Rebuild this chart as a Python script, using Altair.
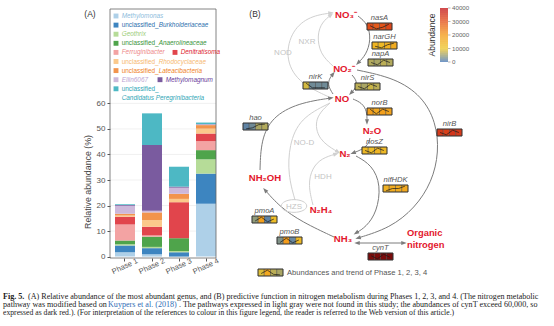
import math
import altair as alt
import pandas as pd

W, H = 554, 326
FONT = "Liberation Sans"
SERIF = "Liberation Serif"

# ======================= DATA =======================
# ---- Panel A: relative abundance (%) of the most abundant genera ----
phases = ["Phase 1", "Phase 2", "Phase 3", "Phase 4"]
genera = ["Methylomonas", "unclassified_Burkholderiaceae", "Geothrix",
          "unclassified_Anaerolineaceae", "Ferruginibacter", "Denitratisoma",
          "unclassified_Rhodocyclaceae", "unclassified_Lateacibacteria",
          "Ellin6067", "Methylomagnum", "unclassified_Candidatus Peregrinibacteria"]
abund_phase1 = [1.7, 2.6, 0.5, 1.5, 6.3, 3.0, 0.5, 0.7, 3.1, 0.3, 0.3]
abund_phase2 = [0.9, 2.4, 0.5, 4.0, 0.5, 3.4, 2.6, 3.0, 0.7, 25.7, 12.4]
abund_phase3 = [0.0, 1.7, 0.5, 5.0, 0.0, 14.1, 1.3, 2.0, 2.4, 0.4, 7.8]
abund_phase4 = [20.7, 11.8, 5.6, 3.6, 3.5, 3.0, 1.9, 1.4, 0.3, 0.1, 0.6]
y_ticks = [0, 10, 20, 30, 40, 50, 60]

legend_plain = ["", "unclassified_", "", "unclassified_", "", "", "unclassified_",
                "unclassified_", "", "", "unclassified_", ""]
legend_italic = ["Methylomonas", "Burkholderiaceae", "Geothrix", "Anaerolineaceae",
                 "Ferruginibacter", "Denitratisoma", "Rhodocyclaceae", "Lateacibacteria",
                 "Ellin6067", "Methylomagnum", "", "Candidatus Peregrinibacteria"]
legend_series = [0, 1, 2, 3, 4, 5, 6, 7, 8, 9, 10, 10]

# ---- Panel B: predicted gene abundances, Phases 1-4 ----
genes = ["nasA", "narGH", "napA", "nirK", "nirS", "norB", "hao", "nirB",
         "nosZ", "nifHDK", "pmoA", "pmoB", "cynT", ""]
gene_phase1 = [31000, 14000, 6500, 8500, 7000, 19000, 1500, 34000, 13000, 15000, 4500, 3500, 65000, 9000]
gene_phase2 = [29000, 13000, 6000, 2500, 6000, 17000, 2500, 33000, 12000, 16000, 19000, 20000, 63000, 17000]
gene_phase3 = [30000, 15000, 7000, 2500, 8000, 19000, 6000, 35000, 14000, 16000, 1500, 2000, 66000, 7000]
gene_phase4 = [32000, 16000, 6500, 2500, 7000, 18000, 6500, 34000, 13000, 17000, 12000, 13000, 64000, 6000]
abund_ticks = [0, 10000, 20000, 30000, 40000]

nodes = ["NO₃⁻", "NO₂⁻", "NO", "N₂O", "N₂", "NH₂OH", "N₂H₄", "NH₃"]
absent_enzymes = ["NXR", "NOD", "NO-D", "HDH", "HZS"]

caption_parts = [
    "Fig. 5.",
    "(A) Relative abundance of the most abundant genus, and (B) predictive function in nitrogen metabolism during Phases 1, 2, 3, and 4. (The nitrogen metabolic",
    "pathway was modified based on",
    "Kuypers et al. (2018)",
    ". The pathways expressed in light gray were not found in this study; the abundances of cynT exceed 60,000, so",
    "expressed as dark red.). (For interpretation of the references to colour in this figure legend, the reader is referred to the Web version of this article.)",
]

# ======================= STYLE / LAYOUT =======================
bar_colors = ["#aed0e8", "#3d85c0", "#b6dc98", "#4fa44b", "#f3a3a3", "#e1454c",
              "#fbc98b", "#f2944c", "#cdb8da", "#7a5b9f", "#4db8c4"]
text_colors = ["#8dbcdc", "#2f70ad", "#9ccd78", "#3a943a", "#ee8a8a", "#dc2430",
               "#f6b870", "#ef7f1e", "#bba3d3", "#6a3d9a", "#2fa6b6"]
RED = "#e3172d"
DARK = "#7c7c7c"
LIGHT = "#d0d0d0"

# panel A layout
A_LEFT, A_RIGHT, A_TOP, A_BOTTOM = 110, 216, 9, 258
A_Y_RANGE = [256.6, 103.4]
A_X_RANGE = [111.5, 219.5]
legend_sq_x = [116, 116, 116, 116, 116, 175, 116, 116, 116, 160, 116, None]
legend_row = [0, 1, 2, 3, 4, 4, 5, 6, 7, 7, 8, 9]
LEG_Y0, LEG_DY, LEG_FS = 16, 9.1, 6.4

# panel B layout
gene_box_x = [367, 372, 368, 303, 355, 367, 243, 437, 362, 383, 252, 277, 368, 258]
gene_box_y = [23, 42, 59, 82, 83, 108, 123, 129, 147, 185, 216, 237, 253, 269]
BOX_W, BOX_H = 25, 7
node_x = [346, 344, 342, 372, 345, 265, 321, 343]
node_y = [15, 69, 99, 131, 154, 178, 210, 239]
enz_x = [307, 283, 304, 323, 294]
enz_y = [42, 53, 143, 177, 207]

curves = [
    ("nas", DARK, "end", [(358, 16), (368, 24), (371, 40), (366, 55), (358, 63)]),
    ("nirK", DARK, "end", [(333, 94), (328, 86), (329, 79), (333, 74)]),
    ("nirS", DARK, "end", [(352, 75), (357, 81), (356, 88), (351, 93)]),
    ("norB", DARK, "end", [(353, 99), (362, 103), (367, 111), (367, 122)]),
    ("nosZ", DARK, "end", [(370, 138), (368, 145), (361, 150), (353, 153)]),
    ("nif", DARK, "end", [(356, 156), (372, 165), (381, 185), (377, 212), (366, 227), (356, 233)]),
    ("nirB", DARK, "end", [(357, 70), (395, 78), (422, 96), (436, 122), (439, 152), (432, 182),
                           (415, 208), (390, 228), (358, 238)]),
    ("cynT", DARK, "both", [(357, 243), (404, 243)]),
    ("pmo", DARK, "end", [(334, 237), (302, 222), (280, 207), (265, 190)]),
    ("hao", DARK, "end", [(260, 170), (261, 140), (272, 117), (298, 103), (331, 98)]),
    ("nxr", LIGHT, "end", [(333, 66), (320, 54), (317, 35), (322, 22), (331, 15)]),
    ("nod", LIGHT, "end", [(329, 97), (297, 82), (285, 57), (292, 30), (310, 16), (331, 13)]),
    ("nod2", LIGHT, "end", [(330, 103), (314, 118), (318, 140), (338, 152)]),
    ("hzs", LIGHT, "none", [(330, 103), (300, 118), (289, 145), (288, 175), (295, 200)]),
    ("hdh", LIGHT, "end", [(313, 205), (308, 185), (312, 168), (322, 158), (336, 154)]),
]

XS = alt.Scale(domain=[0, W], range=[0, W], nice=False, zero=False)
YS = alt.Scale(domain=[0, H], range=[0, H], nice=False, zero=False)


def PX(f):
    return alt.X(f"{f}:Q", scale=XS, axis=None)


def PY(f):
    return alt.Y(f"{f}:Q", scale=YS, axis=None)


one = pd.DataFrame({"a": [0]})
layers = []

# ======================= PANEL A =======================
grid_df = pd.DataFrame({"v": y_ticks[1:]})
layers.append(alt.Chart(grid_df).mark_rule(color="#ebebeb", strokeWidth=0.7).encode(
    x=alt.value(A_LEFT), x2=alt.value(A_RIGHT),
    y=alt.Y("v:Q", scale=alt.Scale(domain=[0, 60], range=A_Y_RANGE, nice=False), axis=None)))

rows = []
for ph, vals in zip(phases, [abund_phase1, abund_phase2, abund_phase3, abund_phase4]):
    for i, (g, v) in enumerate(zip(genera, vals)):
        rows.append({"phase": ph, "genus": g, "idx": i, "value": v})
bar_df = pd.DataFrame(rows)

layers.append(alt.Chart(bar_df).mark_bar().encode(
    x=alt.X("phase:N", sort=phases,
            scale=alt.Scale(domain=phases, range=A_X_RANGE, paddingInner=0.26, paddingOuter=0.13),
            axis=alt.Axis(orient="bottom", offset=-(H - A_BOTTOM), domain=False, tickSize=3,
                          tickColor="#555", labelAngle=-25, labelAlign="center", labelBaseline="middle",
                          labelPadding=5, labelFontSize=7.5, labelColor="#555", labelFont=FONT,
                          title=None)),
    y=alt.Y("value:Q", stack="zero",
            scale=alt.Scale(domain=[0, 60], range=A_Y_RANGE, nice=False),
            axis=alt.Axis(orient="left", offset=-A_LEFT, values=y_ticks, domain=False, grid=False,
                          tickSize=3, tickColor="#555", labelFontSize=8, labelColor="#555",
                          labelFont=FONT, labelPadding=2, title=None)),
    color=alt.Color("genus:N", scale=alt.Scale(domain=genera, range=bar_colors), legend=None),
    order=alt.Order("idx:Q", sort="ascending"),
))

layers.append(alt.Chart(one).mark_rect(fill="transparent", stroke="#666", strokeWidth=0.8).encode(
    x=alt.value(A_LEFT), x2=alt.value(A_RIGHT), y=alt.value(A_TOP), y2=alt.value(A_BOTTOM)))

leg_rows = []
for k in range(len(legend_italic)):
    sx = legend_sq_x[k]
    base = 116 if sx is None else sx
    leg_rows.append({
        "sx": sx if sx is not None else -50,
        "tx": base + 5.7,
        "ty": LEG_Y0 + LEG_DY * legend_row[k],
        "plain": legend_plain[k],
        "ital": legend_italic[k],
        "ix": base + 5.7 + (5.78 * LEG_FS if legend_plain[k] else 0),
        "col": text_colors[legend_series[k]],
        "fill": bar_colors[legend_series[k]],
        "has_sq": sx is not None,
    })
leg_df = pd.DataFrame(leg_rows)
layers.append(alt.Chart(leg_df[leg_df.has_sq]).mark_point(shape="square", filled=True, size=24, opacity=1).encode(
    x=PX("sx"), y=PY("ty"), color=alt.Color("fill:N", scale=None)))
layers.append(alt.Chart(leg_df[leg_df.plain != ""]).mark_text(align="left", baseline="middle", font=FONT,
                                                              fontSize=LEG_FS).encode(
    x=PX("tx"), y=PY("ty"), text="plain:N", color=alt.Color("col:N", scale=None)))
layers.append(alt.Chart(leg_df[leg_df.ital != ""]).mark_text(align="left", baseline="middle", font=FONT,
                                                             fontSize=LEG_FS, fontStyle="italic").encode(
    x=PX("ix"), y=PY("ty"), text="ital:N", color=alt.Color("col:N", scale=None)))

layers.append(alt.Chart(one).mark_text(text="Relative abundance (%)", angle=270, font=FONT, fontSize=8.8,
                                       color="#444", baseline="middle", align="center").encode(
    x=alt.value(88), y=alt.value(182)))
layers.append(alt.Chart(one).mark_text(text="(A)", font=FONT, fontSize=8.5, color="#333").encode(
    x=alt.value(90), y=alt.value(14)))
layers.append(alt.Chart(one).mark_text(text="(B)", font=FONT, fontSize=8.5, color="#333").encode(
    x=alt.value(255), y=alt.value(14)))

# ======================= PANEL B =======================
crow, arow = [], []
for name, col, arrow, pts in curves:
    for k, (x, y) in enumerate(pts):
        crow.append({"path": name, "k": k, "x": x, "y": y, "col": col})
    if arrow in ("end", "both"):
        (x1, y1), (x2, y2) = pts[-2], pts[-1]
        arow.append({"x": x2, "y": y2, "col": col,
                     "ang": math.degrees(math.atan2(x2 - x1, -(y2 - y1))) % 360})
    if arrow in ("start", "both"):
        (x1, y1), (x2, y2) = pts[1], pts[0]
        arow.append({"x": x2, "y": y2, "col": col,
                     "ang": math.degrees(math.atan2(x2 - x1, -(y2 - y1))) % 360})
curve_df = pd.DataFrame(crow)
arrow_df = pd.DataFrame(arow)

layers.append(alt.Chart(curve_df).mark_line(interpolate="basis", strokeWidth=1).encode(
    x=PX("x"), y=PY("y"), detail="path:N", order="k:Q", color=alt.Color("col:N", scale=None)))
layers.append(alt.Chart(arrow_df).mark_point(shape="M0,-1L0.75,1L-0.75,1Z", filled=True, size=30,
                                             opacity=1).encode(
    x=PX("x"), y=PY("y"), angle=alt.Angle("ang:Q", scale=None), color=alt.Color("col:N", scale=None)))

# HZS loop
layers.append(alt.Chart(pd.DataFrame({"x": [enz_x[4]], "y": [enz_y[4] - 1]})).mark_point(
    shape="M-1,0A1,0.5 0 1,0 1,0A1,0.5 0 1,0 -1,0", filled=False, size=650, color=LIGHT,
    strokeWidth=1, opacity=1).encode(x=PX("x"), y=PY("y")))

# enzyme text (not found)
layers.append(alt.Chart(pd.DataFrame({"t": absent_enzymes, "x": enz_x, "y": enz_y})).mark_text(
    font=FONT, fontSize=8, color="#c4c4c4").encode(x=PX("x"), y=PY("y"), text="t:N"))

# nodes
layers.append(alt.Chart(pd.DataFrame({"t": nodes, "x": node_x, "y": node_y})).mark_text(
    font=FONT, fontSize=9.6, fontWeight="bold", color=RED).encode(x=PX("x"), y=PY("y"), text="t:N"))
layers.append(alt.Chart(pd.DataFrame({"t": ["Organic", "nitrogen"], "x": [407, 407], "y": [233, 245]})).mark_text(
    font=FONT, fontSize=9.4, fontWeight="bold", color=RED, align="left").encode(
    x=PX("x"), y=PY("y"), text="t:N"))

# gene heat boxes
abund_dom = [0, 10000, 20000, 30000, 40000, 60000]
abund_rng = ["#4778bb", "#ecc52a", "#f49c1b", "#e3531a", "#c3161c", "#7a0b0b"]
ASCALE = alt.Scale(domain=abund_dom, range=abund_rng, interpolate="rgb", clamp=True)
cell_rows, spark_rows, lab_rows = [], [], []
for g in range(len(genes)):
    vals = [gene_phase1[g], gene_phase2[g], gene_phase3[g], gene_phase4[g]]
    bx, by = gene_box_x[g], gene_box_y[g]
    cw = BOX_W / 4
    lo, hi = min(vals), max(vals)
    for i, v in enumerate(vals):
        cell_rows.append({"g": g, "x0": bx + i * cw, "x1": bx + (i + 1) * cw, "y0": by, "y1": by + BOX_H, "v": v})
        frac = 0.5 if hi == lo else (v - lo) / (hi - lo)
        spark_rows.append({"g": g, "i": i, "x": bx + (i + 0.5) * cw, "y": by + 1.2 + (1 - frac) * (BOX_H - 2.4)})
    if genes[g]:
        lab_rows.append({"t": genes[g], "x": bx + BOX_W / 2, "y": by - 0.6})
cell_df = pd.DataFrame(cell_rows)
layers.append(alt.Chart(cell_df).mark_rect(stroke="#3a3a3a", strokeWidth=0.4).encode(
    x=PX("x0"), x2="x1:Q", y=PY("y0"), y2="y1:Q",
    color=alt.Color("v:Q", scale=ASCALE, legend=None)))
box_df = pd.DataFrame({"x0": gene_box_x, "y0": gene_box_y,
                       "x1": [x + BOX_W for x in gene_box_x], "y1": [y + BOX_H for y in gene_box_y]})
layers.append(alt.Chart(box_df).mark_rect(fill="transparent", stroke="#333", strokeWidth=0.8).encode(
    x=PX("x0"), x2="x1:Q", y=PY("y0"), y2="y1:Q"))
layers.append(alt.Chart(pd.DataFrame(spark_rows)).mark_line(color="#1a1a1a", strokeWidth=0.7).encode(
    x=PX("x"), y=PY("y"), detail="g:N", order="i:Q"))
layers.append(alt.Chart(pd.DataFrame(lab_rows)).mark_text(
    font=FONT, fontSize=7.6, fontStyle="italic", color="#555", baseline="bottom").encode(
    x=PX("x"), y=PY("y"), text="t:N"))

layers.append(alt.Chart(one).mark_text(text="Abundances and trend of Phase 1, 2, 3, 4", font=FONT,
                                       fontSize=7.6, color="#555", align="left").encode(
    x=alt.value(287), y=alt.value(273)))

# colour bar
CB_Y = alt.Scale(domain=[0, 40000], range=[62, 8], nice=False)
cb_rows = [{"lo": v, "hi": v + 500, "mid": v + 250} for v in range(0, 40000, 500)]
layers.append(alt.Chart(pd.DataFrame(cb_rows)).mark_rect().encode(
    x=alt.value(440), x2=alt.value(448),
    y=alt.Y("lo:Q", scale=CB_Y, axis=None), y2="hi:Q",
    color=alt.Color("mid:Q", scale=ASCALE, legend=None)))
cbt = pd.DataFrame({"v": abund_ticks, "t": [str(v) for v in abund_ticks]})
layers.append(alt.Chart(cbt).mark_rule(color="#888", strokeWidth=0.6).encode(
    x=alt.value(448), x2=alt.value(450.5), y=alt.Y("v:Q", scale=CB_Y, axis=None)))
layers.append(alt.Chart(cbt).mark_text(font=FONT, fontSize=6.2, color="#666", align="left").encode(
    x=alt.value(452), y=alt.Y("v:Q", scale=CB_Y, axis=None), text="t:N"))
layers.append(alt.Chart(one).mark_text(text="Abundance", angle=270, font=FONT, fontSize=8.5,
                                       color="#333").encode(x=alt.value(432), y=alt.value(35)))

# ======================= CAPTION =======================
cap_x = [3, 28, 3, 108, 179, 3]
cap_y = [297, 297, 305, 305, 305, 313]
cap_size = [8.1, 8.1, 8.1, 8.1, 8.1, 7.7]
cap_weight = ["bold", "normal", "normal", "normal", "normal", "normal"]
cap_color = ["#222", "#222", "#222", "#2f6db5", "#222", "#222"]
for t, x, y, s, w, c in zip(caption_parts, cap_x, cap_y, cap_size, cap_weight, cap_color):
    layers.append(alt.Chart(one).mark_text(text=t, font=SERIF, fontSize=s, fontWeight=w, color=c,
                                           align="left").encode(x=alt.value(x), y=alt.value(y)))

chart = alt.layer(*layers).resolve_scale(
    x="independent", y="independent", color="independent"
).properties(
    width=W, height=H, padding=0, autosize=alt.AutoSizeParams(type="none"), background="white"
).configure_view(stroke=None)

chart.save("out.html", embed_options={"renderer": "svg", "actions": False})
